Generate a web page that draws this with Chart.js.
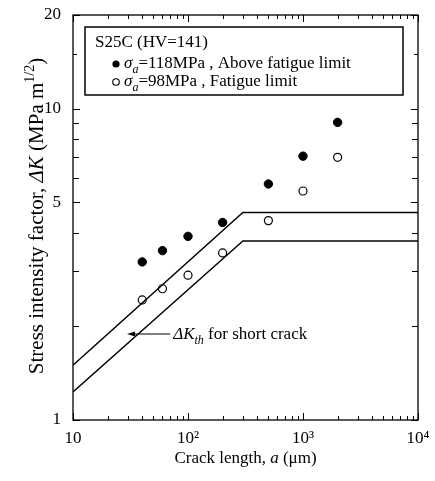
<!DOCTYPE html>
<html><head><meta charset="utf-8">
<script src="https://cdn.jsdelivr.net/npm/chart.js@4.4.0/dist/chart.umd.min.js"></script>
<style>html,body{margin:0;padding:0;background:#fff;}canvas{display:block;}</style>
</head><body>
<canvas id="c" width="435" height="481"></canvas>
<script>
// ---- data ----
const crackLength = [40, 60, 100, 200, 500, 1000, 2000];           // a (μm)
const kAboveLimit = [3.22, 3.50, 3.89, 4.31, 5.73, 7.04, 9.04];     // σa=118MPa
const kFatigueLimit = [2.43, 2.64, 2.92, 3.44, 4.37, 5.44, 6.98];   // σa=98MPa
const thresholdCrack = [10, 300, 10000];
const thresholdUpper = [1.50, 4.64, 4.64];
const thresholdLower = [1.23, 3.76, 3.76];
const xTickValues = [10, 100, 1000, 10000];
const xTickLabels = ['10', '10²', '10³', '10⁴'];
const yTickValues = [1, 5, 10, 20];
const yTickLabels = ['1', '5', '10', '20'];
const xMinorTicks = [20,30,40,50,60,70,80,90,200,300,400,500,600,700,800,900,2000,3000,4000,5000,6000,7000,8000,9000];
const yMinorTicks = [2,3,4,6,7,8,9,15];
// annotation anchor (data units)
const arrowTip = {a: 29.5, k: 1.89};
const arrowTail = {a: 70, k: 1.89};

const FONT = "'Liberation Serif','Times New Roman',serif";

function drawRich(ctx, parts, x, y, size, measureOnly) {
  let cx = x;
  for (const p of parts) {
    const small = p.sub || p.sup;
    const fs = small ? Math.round(size * 0.68) : size;
    ctx.font = (p.i ? 'italic ' : '') + fs + 'px ' + FONT;
    const dy = p.sub ? size * 0.28 : (p.sup ? -size * 0.45 : 0);
    if (!measureOnly) ctx.fillText(p.t, cx, y + dy);
    cx += ctx.measureText(p.t).width;
  }
  return cx - x;
}

const decor = {
  id: 'decor',
  afterDraw(chart) {
    const ctx = chart.ctx, ca = chart.chartArea;
    const xs = chart.scales.x, ys = chart.scales.y;
    ctx.save();
    ctx.strokeStyle = '#000'; ctx.fillStyle = '#000';
    ctx.lineWidth = 1.3;
    ctx.strokeRect(ca.left, ca.top, ca.right - ca.left, ca.bottom - ca.top);
    ctx.lineWidth = 1;
    ctx.beginPath();
    const xt = (v, len) => { const px = Math.round(xs.getPixelForValue(v)) + 0.5;
      ctx.moveTo(px, ca.bottom); ctx.lineTo(px, ca.bottom - len);
      ctx.moveTo(px, ca.top); ctx.lineTo(px, ca.top + len); };
    const yt = (v, len) => { const py = Math.round(ys.getPixelForValue(v)) + 0.5;
      ctx.moveTo(ca.left, py); ctx.lineTo(ca.left + len, py);
      ctx.moveTo(ca.right, py); ctx.lineTo(ca.right - len, py); };
    xTickValues.forEach(v => xt(v, 7));
    xMinorTicks.forEach(v => xt(v, 4));
    yTickValues.forEach(v => yt(v, 7));
    yMinorTicks.forEach(v => yt(v, v === 15 ? 4 : 6));
    ctx.stroke();

    // axis titles
    ctx.textBaseline = 'alphabetic';
    const xTitle = [{t:'Crack length, '},{t:'a',i:true},{t:' (μm)'}];
    const wx = drawRich(ctx, xTitle, 0, 0, 17, true);
    drawRich(ctx, xTitle, (ca.left + ca.right) / 2 - wx / 2, 463, 17);

    const yTitle = [{t:'Stress intensity factor, '},{t:'ΔK',i:true},{t:' (MPa m'},{t:'1/2',sup:true},{t:')'}];
    ctx.save();
    ctx.translate(43, 216);
    ctx.rotate(-Math.PI / 2);
    const wy = drawRich(ctx, yTitle, 0, 0, 21, true);
    drawRich(ctx, yTitle, -wy / 2, 0, 21);
    ctx.restore();

    // legend box
    const bx = ca.left + 12, by = ca.top + 12, bw = 318, bh = 68;
    ctx.lineWidth = 1.5;
    ctx.strokeRect(bx, by, bw, bh);
    drawRich(ctx, [{t:'S25C (HV=141)'}], bx + 10, by + 20, 17);
    ctx.beginPath(); ctx.arc(bx + 31, by + 37, 3.6, 0, Math.PI * 2); ctx.fill();
    drawRich(ctx, [{t:'σ',i:true},{t:'a',i:true,sub:true},{t:'=118MPa , Above fatigue limit'}], bx + 39, by + 41, 17);
    ctx.lineWidth = 1.1;
    ctx.beginPath(); ctx.arc(bx + 31, by + 55, 3.3, 0, Math.PI * 2); ctx.stroke();
    drawRich(ctx, [{t:'σ',i:true},{t:'a',i:true,sub:true},{t:'=98MPa , Fatigue limit'}], bx + 39, by + 59, 17);

    // annotation arrow
    const tx = xs.getPixelForValue(arrowTip.a), ty = ys.getPixelForValue(arrowTip.k);
    const sx = xs.getPixelForValue(arrowTail.a);
    ctx.lineWidth = 1.1;
    ctx.beginPath(); ctx.moveTo(sx, ty); ctx.lineTo(tx + 3, ty); ctx.stroke();
    ctx.beginPath(); ctx.moveTo(tx, ty); ctx.lineTo(tx + 8, ty - 2.5); ctx.lineTo(tx + 8, ty + 2.5); ctx.closePath(); ctx.fill();
    drawRich(ctx, [{t:'ΔK',i:true},{t:'th',i:true,sub:true},{t:' for short crack'}], sx + 3, ty + 5, 17);
    ctx.restore();
  }
};

new Chart(document.getElementById('c'), {
  type: 'scatter',
  data: {
    datasets: [
      { data: thresholdCrack.map((a, i) => ({x: a, y: thresholdUpper[i]})), showLine: true,
        borderColor: '#000', borderWidth: 1.4, pointRadius: 0, fill: false },
      { data: thresholdCrack.map((a, i) => ({x: a, y: thresholdLower[i]})), showLine: true,
        borderColor: '#000', borderWidth: 1.4, pointRadius: 0, fill: false },
      { data: crackLength.map((a, i) => ({x: a, y: kAboveLimit[i]})),
        pointRadius: 4.2, backgroundColor: '#000', borderColor: '#000', borderWidth: 1 },
      { data: crackLength.map((a, i) => ({x: a, y: kFatigueLimit[i]})),
        pointRadius: 4, backgroundColor: '#fff', borderColor: '#000', borderWidth: 1.2 }
    ]
  },
  options: {
    responsive: false, animation: false,
    layout: { padding: { top: 15, right: 17, left: 0, bottom: 0 } },
    plugins: { legend: { display: false }, tooltip: { enabled: false } },
    scales: {
      x: {
        type: 'logarithmic', min: 10, max: 10000,
        grid: { display: false, drawTicks: false }, border: { display: false },
        afterBuildTicks: s => { s.ticks = xTickValues.map(v => ({value: v})); },
        afterFit: s => { s.height = 61; s.paddingLeft = 0; s.paddingRight = 0; },
        ticks: { autoSkip: false, maxRotation: 0, padding: 8, color: '#000',
          font: { family: FONT, size: 17 },
          callback: v => { const i = xTickValues.indexOf(v); return i >= 0 ? xTickLabels[i] : ''; } }
      },
      y: {
        type: 'logarithmic', min: 1, max: 20,
        grid: { display: false, drawTicks: false }, border: { display: false },
        afterBuildTicks: s => { s.ticks = yTickValues.map(v => ({value: v})); },
        afterFit: s => { s.width = 73; s.paddingTop = 0; s.paddingBottom = 0; },
        ticks: { autoSkip: false, padding: 12, color: '#000',
          font: { family: FONT, size: 17 },
          callback: v => { const i = yTickValues.indexOf(v); return i >= 0 ? yTickLabels[i] : ''; } }
      }
    }
  },
  plugins: [decor]
});
</script>
</body></html>
